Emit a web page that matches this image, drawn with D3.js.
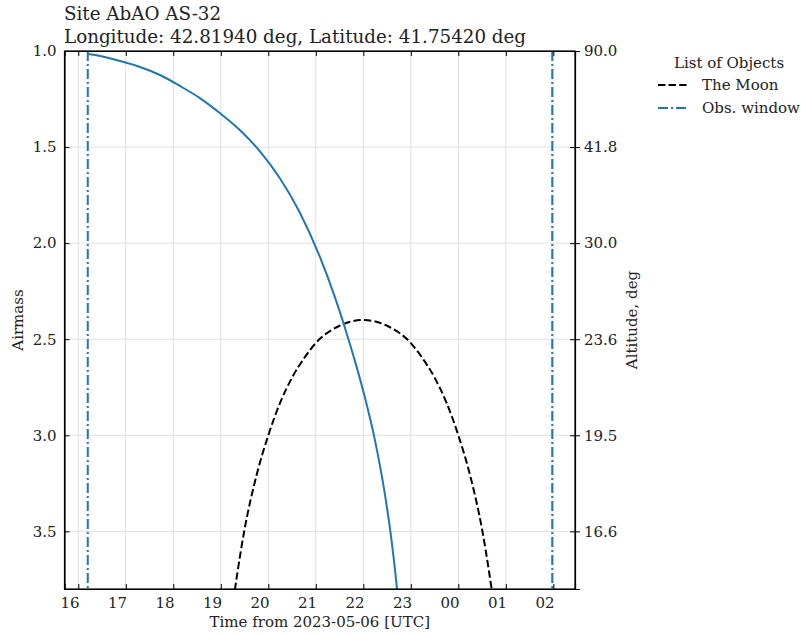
<!DOCTYPE html>
<html>
<head>
<meta charset="utf-8">
<script src="https://cdn.jsdelivr.net/npm/d3@7"></script>
<style>
  body { margin: 0; background: #fff; }
  text { font-family: "DejaVu Serif", serif; fill: #222; }
</style>
</head>
<body>
<script>
// target airmass curve (hours since 00:00 of 2023-05-06)
const targetTime = [16.20, 16.46, 16.88, 17.30, 17.72, 18.14, 18.56, 18.98, 19.40, 19.82, 20.24, 20.66, 21.08, 21.40, 21.65, 21.82, 22.03, 22.24, 22.45, 22.58, 22.71, 22.80];
const targetAirmass = [1.016, 1.026, 1.052, 1.083, 1.125, 1.182, 1.245, 1.323, 1.411, 1.521, 1.661, 1.839, 2.068, 2.28, 2.47, 2.61, 2.80, 3.02, 3.30, 3.52, 3.80, 4.03];

// the moon
const moonTime = [19.2, 19.5, 19.75, 20.0, 20.25, 20.5, 20.75, 21.0, 21.5, 22.0, 22.5, 23.0, 23.25, 23.5, 23.75, 24.0, 24.25, 24.5, 24.8];
const moonAirmass = [3.97, 3.49, 3.21, 3.00, 2.83, 2.70, 2.60, 2.52, 2.43, 2.40, 2.43, 2.52, 2.60, 2.70, 2.83, 3.00, 3.21, 3.49, 3.97];

// observation window
const obsWindow = [16.20, 25.977];

const xTicks = [16, 17, 18, 19, 20, 21, 22, 23, 24, 25, 26];
const xTickLabels = ["16", "17", "18", "19", "20", "21", "22", "23", "00", "01", "02"];
const yTicks = [1.0, 1.5, 2.0, 2.5, 3.0, 3.5];
const yTickLabels = ["1.0", "1.5", "2.0", "2.5", "3.0", "3.5"];
const altTickLabels = ["90.0", "41.8", "30.0", "23.6", "19.5", "16.6"];

const width = 801, height = 635;
const pLeft = 64.5, pTop = 51, pRight = 575, pBottom = 589;
const fs = "15px";

const svg = d3.select("body").append("svg")
  .attr("width", width)
  .attr("height", height);

const x = d3.scaleLinear().domain([15.71, 26.456]).range([pLeft, pRight]);
const y = d3.scaleLinear().domain([1.0, 3.8]).range([pTop, pBottom]);

// grid
svg.append("g").selectAll("line")
  .data(xTicks).enter().append("line")
  .attr("x1", d => x(d)).attr("x2", d => x(d))
  .attr("y1", pTop).attr("y2", pBottom)
  .attr("stroke", "#e0e0e0").attr("stroke-width", 1);
svg.append("g").selectAll("line")
  .data(yTicks.slice(1)).enter().append("line")
  .attr("x1", pLeft).attr("x2", pRight)
  .attr("y1", d => y(d)).attr("y2", d => y(d))
  .attr("stroke", "#e0e0e0").attr("stroke-width", 1);

svg.append("clipPath").attr("id", "plot")
  .append("rect")
  .attr("x", pLeft).attr("y", pTop)
  .attr("width", pRight - pLeft).attr("height", pBottom - pTop);

const plot = svg.append("g").attr("clip-path", "url(#plot)");

const line = d3.line()
  .x(d => x(d[0]))
  .y(d => y(d[1]))
  .curve(d3.curveMonotoneX);

plot.append("path")
  .datum(moonTime.map((t, i) => [t, moonAirmass[i]]))
  .attr("d", line)
  .attr("fill", "none")
  .attr("stroke", "#000")
  .attr("stroke-width", 2)
  .attr("stroke-dasharray", "7.4,3.2");

plot.append("path")
  .datum(targetTime.map((t, i) => [t, targetAirmass[i]]))
  .attr("d", line)
  .attr("fill", "none")
  .attr("stroke", "#1f77b4")
  .attr("stroke-width", 2);

plot.selectAll(".obs")
  .data(obsWindow).enter().append("line")
  .attr("class", "obs")
  .attr("x1", d => x(d)).attr("x2", d => x(d))
  .attr("y1", pTop).attr("y2", pBottom)
  .attr("stroke", "#1f77b4")
  .attr("stroke-width", 2)
  .attr("stroke-dasharray", "10,3,2,3");

// axes
const xBottom = d3.axisBottom(x).tickValues(xTicks).tickSize(-5).tickPadding(8)
  .tickFormat((d, i) => xTickLabels[i]);
const gx = svg.append("g").attr("transform", `translate(0,${pBottom})`).call(xBottom);
gx.selectAll("text").attr("text-anchor", "end").attr("dx", "0.05em");

const xTop = d3.axisTop(x).tickValues(xTicks).tickSize(-5).tickFormat("");
svg.append("g").attr("transform", `translate(0,${pTop})`).call(xTop);

const yLeft = d3.axisLeft(y).tickValues(yTicks).tickSize(-5).tickPadding(8)
  .tickFormat((d, i) => yTickLabels[i]);
svg.append("g").attr("transform", `translate(${pLeft},0)`).call(yLeft);

const yRight = d3.axisRight(y).tickValues(yTicks).tickSize(5).tickPadding(4)
  .tickFormat((d, i) => altTickLabels[i]);
const gr = svg.append("g").attr("transform", `translate(${pRight},0)`).call(yRight);
gr.selectAll(".tick line").attr("x1", -5);

svg.selectAll(".domain").attr("stroke", "#000").attr("stroke-width", 1.2);
svg.selectAll(".tick line").attr("stroke", "#000");
svg.selectAll(".tick text").style("font-size", fs).attr("fill", "#222");

// frame
svg.append("rect")
  .attr("x", pLeft).attr("y", pTop)
  .attr("width", pRight - pLeft).attr("height", pBottom - pTop)
  .attr("fill", "none").attr("stroke", "#000").attr("stroke-width", 1.2);

// titles
svg.append("text").attr("x", 64).attr("y", 20)
  .style("font-size", "18.3px").text("Site AbAO AS-32");
svg.append("text").attr("x", 64).attr("y", 43)
  .style("font-size", "18.3px").text("Longitude: 42.81940 deg, Latitude: 41.75420 deg");

svg.append("text")
  .attr("x", (pLeft + pRight) / 2).attr("y", 627)
  .attr("text-anchor", "middle")
  .style("font-size", fs)
  .text("Time from 2023-05-06 [UTC]");

svg.append("text")
  .attr("transform", `translate(23,${(pTop + pBottom) / 2}) rotate(-90)`)
  .attr("text-anchor", "middle")
  .style("font-size", fs)
  .text("Airmass");

svg.append("text")
  .attr("transform", `translate(637,${(pTop + pBottom) / 2}) rotate(-90)`)
  .attr("text-anchor", "middle")
  .style("font-size", fs)
  .text("Altitude, deg");

// legend
const legendItems = [
  {name: "The Moon", color: "#000", dash: "7.4,3.2"},
  {name: "Obs. window", color: "#1f77b4", dash: "10,3,2,3"}
];
const legend = svg.append("g");
legend.append("text")
  .attr("x", 729).attr("y", 68)
  .attr("text-anchor", "middle")
  .style("font-size", fs)
  .text("List of Objects");
const item = legend.selectAll(".item")
  .data(legendItems).enter().append("g")
  .attr("transform", (d, i) => `translate(0,${85 + i * 23})`);
item.append("line")
  .attr("x1", 658).attr("x2", 688)
  .attr("stroke", d => d.color)
  .attr("stroke-width", 2)
  .attr("stroke-dasharray", d => d.dash);
item.append("text")
  .attr("x", 702).attr("y", 5)
  .style("font-size", fs)
  .text(d => d.name);
</script>
</body>
</html>
